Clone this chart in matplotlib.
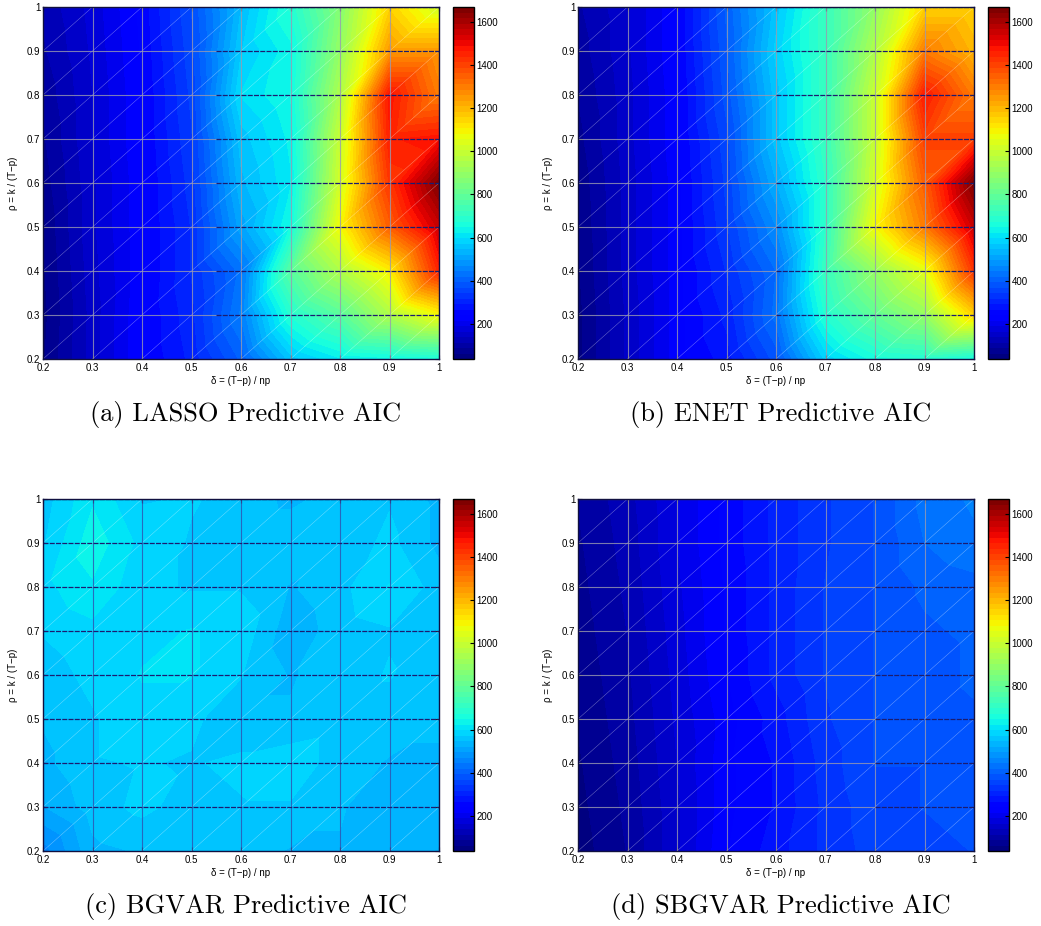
import matplotlib
matplotlib.use('Agg')
import matplotlib.pyplot as plt
import matplotlib.tri as mtri
import numpy as np

# grid of the simulation design
delta = [0.2, 0.3, 0.4, 0.5, 0.6, 0.7, 0.8, 0.9, 1.0]
rho = [0.2, 0.3, 0.4, 0.5, 0.6, 0.7, 0.8, 0.9, 1.0]

# predictive AIC, rows = rho (0.2 -> 1.0), columns = delta (0.2 -> 1.0)
lasso_aic = [
    [60, 150, 240, 300, 400, 560, 620, 640, 660],
    [55, 150, 240, 310, 450, 680, 780, 950, 1080],
    [60, 155, 235, 320, 430, 780, 950, 1100, 1450],
    [65, 160, 235, 320, 510, 650, 1080, 1350, 1550],
    [75, 160, 235, 330, 540, 620, 1020, 1420, 1660],
    [85, 165, 240, 340, 560, 630, 1000, 1460, 1480],
    [95, 165, 240, 350, 600, 650, 950, 1480, 1300],
    [110, 170, 245, 360, 570, 640, 900, 1250, 1250],
    [120, 175, 250, 370, 547, 680, 870, 1150, 1020],
]
enet_aic = [
    [55, 145, 230, 280, 380, 580, 660, 680, 650],
    [55, 145, 230, 300, 430, 680, 800, 900, 1150],
    [60, 150, 230, 320, 420, 720, 900, 1050, 1420],
    [65, 150, 230, 340, 470, 700, 1080, 1300, 1550],
    [70, 150, 230, 350, 520, 700, 1020, 1350, 1660],
    [80, 155, 235, 360, 560, 720, 1000, 1400, 1400],
    [90, 155, 235, 380, 560, 720, 1000, 1470, 1300],
    [100, 160, 240, 390, 580, 720, 950, 1300, 1200],
    [110, 160, 240, 400, 560, 720, 900, 1150, 1150],
]
bgvar_aic = [
    [460, 540, 550, 555, 560, 545, 545, 530, 540],
    [520, 560, 580, 560, 570, 570, 550, 530, 545],
    [540, 570, 575, 570, 580, 590, 560, 545, 545],
    [550, 570, 590, 580, 550, 550, 560, 560, 550],
    [560, 580, 600, 600, 575, 545, 560, 575, 550],
    [575, 590, 590, 600, 590, 530, 560, 570, 560],
    [590, 620, 580, 570, 570, 545, 565, 600, 560],
    [570, 640, 590, 570, 570, 570, 555, 580, 540],
    [560, 620, 570, 575, 565, 540, 560, 570, 540],
]
sbgvar_aic = [
    [50, 90, 160, 240, 280, 325, 355, 360, 370],
    [55, 95, 160, 235, 270, 325, 360, 370, 380],
    [60, 100, 165, 235, 270, 330, 370, 370, 390],
    [65, 105, 170, 230, 280, 340, 370, 380, 390],
    [70, 110, 175, 240, 300, 345, 370, 380, 400],
    [75, 115, 180, 245, 300, 345, 370, 390, 400],
    [80, 120, 185, 245, 300, 345, 370, 400, 410],
    [85, 125, 190, 250, 300, 340, 370, 420, 440],
    [90, 130, 190, 250, 300, 340, 370, 430, 450],
]
captions = ['(a) LASSO Predictive AIC', '(b) ENET Predictive AIC',
            '(c) BGVAR Predictive AIC', '(d) SBGVAR Predictive AIC']
cbar_ticks = [200, 400, 600, 800, 1000, 1200, 1400, 1600]

vmin, vmax = 38, 1668
cmap = plt.get_cmap('jet', 64)
levels = np.linspace(vmin, vmax, 65)

# build triangulation: cells split along bottom-left -> top-right diagonal
X, Y = np.meshgrid(delta, rho)
n = len(delta)
tris = []
for j in range(n - 1):
    for i in range(n - 1):
        a = j * n + i
        tris.append([a, a + 1, a + n + 1])
        tris.append([a, a + n + 1, a + n])
tri = mtri.Triangulation(X.ravel(), Y.ravel(), np.array(tris))

fig = plt.figure(figsize=(10.41, 9.26), dpi=100)
W, H = 1041, 926
# (left px, top px, data, start of dark horizontal grid, vertical grid colour)
panels = [
    (43, 7, lasso_aic, 0.55, '#9a9ab0'),
    (578, 7, enet_aic, 0.6, '#9a9ab0'),
    (43, 499, bgvar_aic, 0.2, '#3050b0'),
    (578, 499, sbgvar_aic, 0.8, '#9a9ab0'),
]
font = 'Liberation Sans'
lab = ['0.2', '0.3', '0.4', '0.5', '0.6', '0.7', '0.8', '0.9', '1']
for k, (lx, ty, data, dark_from, vcol) in enumerate(panels):
    ax = fig.add_axes([lx / W, 1 - (ty + 352) / H, 396 / W, 352 / H])
    z = np.array(data, dtype=float).ravel()
    ax.tricontourf(tri, z, levels=levels, cmap=cmap, vmin=vmin, vmax=vmax,
                   antialiased=False)
    # white seams along triangle diagonals
    for c in np.arange(-0.8, 0.81, 0.1):
        ax.plot([0.2, 1.0], [0.2 + c, 1.0 + c], color='white', lw=0.35,
                alpha=0.45, zorder=2)
    for v in delta[1:-1]:
        ax.axvline(v, color=vcol, lw=0.8, alpha=0.8, zorder=3)
    for r in rho[1:]:
        ax.plot([0.2, dark_from], [r, r], color='#9a9ab0', lw=0.8, alpha=0.8, zorder=3)
        ax.plot([dark_from, 1.0], [r, r], color='#1c1c70', lw=0.9,
                ls=(0, (4, 1)), zorder=3)
    ax.set_xlim(0.2, 1.0)
    ax.set_ylim(0.2, 1.0)
    ax.set_xticks(delta)
    ax.set_yticks(rho)
    ax.set_xticklabels(lab, fontfamily=font)
    ax.set_yticklabels(lab, fontfamily=font)
    ax.tick_params(direction='in', length=3, labelsize=7, top=True, right=True,
                   color='#222222')
    ax.tick_params(axis='x', pad=3)
    ax.tick_params(axis='y', pad=2)
    for s in ax.spines.values():
        s.set_color('#101040')
        s.set_linewidth(1.0)
        s.set_zorder(5)
    ax.set_xlabel('δ = (T−p) / np', fontsize=7, fontfamily=font, labelpad=2)
    ax.set_ylabel('ρ = k / (T−p)', fontsize=7, fontfamily=font, labelpad=6)

    cax = fig.add_axes([(lx + 410) / W, 1 - (ty + 352) / H, 21 / W, 352 / H])
    sm = plt.cm.ScalarMappable(cmap=cmap, norm=plt.Normalize(vmin, vmax))
    cb = fig.colorbar(sm, cax=cax, ticks=cbar_ticks)
    cb.outline.set_linewidth(1.0)
    cax.tick_params(direction='in', length=3, labelsize=7, pad=2)
    for t in cax.get_yticklabels():
        t.set_fontfamily(font)

    fig.text((lx + 203) / W, 1 - (ty + 407) / H, captions[k], fontsize=19,
             fontfamily='cmr10', ha='center', va='center')

fig.savefig('out.png', dpi=100)
